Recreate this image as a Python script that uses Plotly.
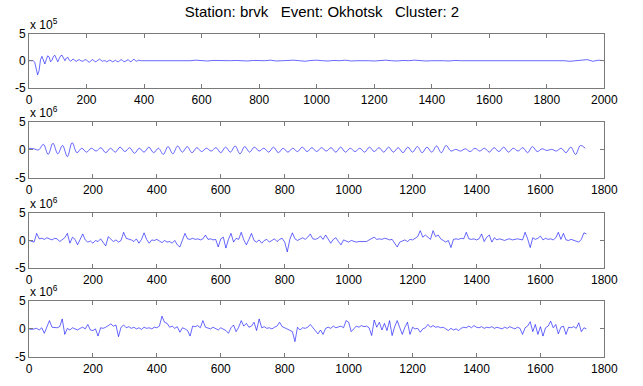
import numpy as np
import plotly.graph_objects as go

# ---------------- data ----------------
TITLE = "Station: brvk\u00a0\u00a0\u00a0Event: Okhotsk\u00a0\u00a0\u00a0Cluster: 2"

# Panel 1 (units of 1e5), samples 0..400 every 5, then 420..2000 every 20
P1_EARLY_STEP = 5
P1_EARLY = [0.0, 0.0, 0.0, 0.0, -0.3, -1.8, -2.6, -1.8, 0.2, 0.8,
            0.1, -0.6, 0.2, 0.9, 0.7, -0.2, 0.1, 0.8, 1.0, 0.3,
            -0.2, 0.4, 0.9, 1.0, 0.4, 0.0, 0.5, 0.6, 0.1, -0.1,
            0.2, 0.3, 0.0, -0.1, 0.1, 0.2, 0.0, -0.1, 0.0, 0.2,
            0.1, -0.1, -0.3, 0.0, 0.2, 0.1, -0.2, -0.1, 0.1, 0.3,
            0.1, -0.1, 0.0, 0.0, -0.2, -0.1, 0.1, 0.0, -0.2, -0.1,
            0.1, -0.1, -0.2, 0.0, 0.2, 0.1, -0.2, -0.1, 0.1, 0.2,
            -0.1, -0.2, 0.1, 0.3, 0.0, -0.1, 0.1, 0.0, 0.0, 0.0,
            0.0]
P1_LATE_START = 420
P1_LATE_STEP = 20
P1_LATE = [0.0, 0.05, -0.05, 0.0, 0.05, 0.0, -0.05, 0.0, 0.1, 0.0,
           -0.05, 0.05, 0.0, -0.05, 0.0, 0.05, 0.0, -0.05, 0.05, 0.0,
           0.0, 0.1, -0.05, 0.0, 0.05, 0.1, 0.0, -0.1, 0.05, 0.1,
           0.0, -0.05, 0.05, 0.0, 0.1, -0.05, 0.0, 0.05, 0.0, -0.05,
           0.0, 0.1, 0.0, -0.05, 0.05, 0.0, 0.1, 0.0, -0.05, 0.0,
           0.05, 0.0, -0.05, 0.05, 0.0, 0.0, -0.05, 0.05, 0.0, 0.05,
           0.0, -0.05, 0.0, 0.05, 0.0, -0.05, 0.0, 0.05, 0.0, 0.0,
           -0.05, 0.05, 0.0, -0.1, 0.0, 0.1, 0.2, -0.1, 0.1, 0.0]

# Panel 2 (units of 1e6), oscillation extremes every 15 samples
P2_STEP = 15
P2 = [0.3, 0.2, 0.0, 1.0, -0.8, 1.2, -0.7, 0.8, -1.2, 1.3,
      -0.5, 0.3, -0.4, 0.3, -0.2, 0.4, -0.5, 0.3, -0.4, 0.5,
      -0.3, 0.4, -0.6, 0.3, -0.4, 0.5, -0.5, 0.3, -0.8, 0.6,
      -0.7, 0.7, -0.4, 0.6, -0.5, 0.4, -0.3, 0.3, -0.2, 0.4,
      -0.5, 0.5, -0.4, 0.7, -0.7, 0.6, -0.4, 0.5, -0.2, 0.3,
      -0.4, 0.5, -0.5, 0.3, -0.4, 0.3, -0.3, 0.5, -0.3, 0.4,
      -0.3, 0.4, -0.2, 0.4, -0.4, 0.5, -0.4, 0.3, -0.3, 0.3,
      -0.4, 0.5, -0.3, 0.4, -0.4, 0.5, -0.4, 0.4, -0.5, 0.5,
      -0.4, 0.6, -0.5, 0.5, -0.4, 0.7, -0.5, 0.8, -0.2, 0.1,
      -0.2, 0.2, -0.3, 0.3, -0.2, 0.3, -0.4, 0.4, -0.3, 0.5,
      -0.4, 0.3, -0.2, 0.4, -0.5, 0.6, -0.3, 0.2, -0.1, 0.1,
      -0.2, 0.3, -0.5, 0.5, -0.8, 0.8, 0.3]

# Panel 3 (units of 1e6), every 8 samples
P3_STEP = 8
P3 = [0.0, -0.2, -0.3, 1.3, 0.3, 0.4, 0.2, 0.5, 0.3, 0.1,
      0.4, 0.3, -0.2, 0.2, 0.5, 1.3, -0.5, 0.6, 0.2, -0.8,
      0.3, 1.2, 0.1, -0.3, -0.1, -0.5, 0.0, -0.2, 0.3, -0.4,
      -1.0, 0.7, 0.2, -0.2, 0.1, -0.3, 0.0, 1.5, 0.4, 0.3,
      0.1, -0.2, 0.3, -0.5, 0.2, 1.4, 0.2, -0.5, 0.1, 0.0,
      0.2, -0.1, -0.4, 0.0, -0.3, -0.2, -0.5, 0.0, -0.8, -1.2,
      0.1, 1.3, 0.3, 0.2, 0.4, 0.2, 0.3, 0.1, 0.3, 1.0,
      0.2, 0.3, 0.1, 0.2, -1.2, 0.3, 0.6, -1.4, 0.2, 1.3,
      -0.3, 0.4, 0.2, 1.5, 0.1, -0.8, 0.2, 1.3, 0.0, -0.3,
      0.1, -0.5, 0.0, 0.2, -0.3, 0.0, 0.3, -0.2, 0.2, 0.4,
      -0.3, -2.1, 0.2, 1.4, 0.3, 0.0, 0.3, 0.5, 0.2, 0.6,
      1.2, 0.3, 0.2, 0.4, 0.8, 0.2, 1.0, 0.3, -0.5, 0.2,
      0.5, -0.2, -0.8, 0.1, -0.1, -0.3, 0.0, -0.2, -0.3, -0.2,
      -0.2, -0.1, -0.2, 0.1, 0.4, 0.6, 0.2, 0.3, 0.2, 0.4,
      0.3, 0.1, 0.2, -0.5, -1.2, -0.3, -0.1, 0.1, -0.2, 0.2,
      0.1, 0.4, 0.7, 1.8, 0.6, 1.0, 0.5, 0.2, 1.8, 0.7,
      1.0, 0.3, 0.0, -0.3, 0.0, -1.3, 0.2, 0.3, 0.2, 0.4,
      0.3, 1.5, 0.3, 0.2, 0.3, 0.1, 0.3, 1.2, -0.2, 0.6,
      1.0, -0.3, 0.5, 0.1, 0.3, 0.2, 0.0, 0.2, 0.3, 0.1,
      0.2, 0.3, 0.2, 0.1, 1.5, 0.3, -1.3, 0.5, 0.2, 0.4,
      0.8, 0.1, 0.4, 0.2, 0.3, 0.1, 0.5, 1.5, 0.2, 1.3,
      0.1, 0.0, 0.2, 0.0, -0.1, -0.3, 0.2, 1.4, 1.2]

# Panel 4 (units of 1e6), every 8 samples
P4_STEP = 8
P4 = [0.0, -0.1, 0.0, 0.1, -0.2, 0.2, -0.8, 0.4, 1.5, 0.3,
      0.3, 0.2, 0.4, 1.8, -1.0, 0.1, -0.2, 0.2, 0.0, -0.2,
      0.1, 0.3, 0.0, 0.8, -0.2, -0.3, 0.0, -1.3, 0.2, 0.1,
      0.3, 0.6, 0.9, 0.5, 0.7, -1.4, 0.3, 0.7, 0.2, 0.4,
      0.1, 0.3, 0.0, 0.2, -0.1, 0.3, 0.1, 0.2, 0.0, 0.3,
      0.2, 0.5, 2.3, 1.2, 1.0, 0.3, 0.5, 0.1, 0.4, -0.6,
      0.2, 0.0, -0.3, -1.3, 0.5, 0.4, 0.6, 0.2, 1.5, 0.3,
      0.2, 0.0, 0.3, 0.1, -0.2, 0.2, 0.0, -0.3, -0.8, 0.2,
      0.7, -0.5, 0.3, 1.5, 0.5, 1.0, 0.3, 0.5, 1.2, -0.3,
      1.8, 0.2, 0.4, 0.1, 0.2, 0.0, 0.3, 0.5, 1.2, 0.4,
      0.2, 0.0, -0.3, -0.5, -2.3, 0.3, -0.2, 0.2, 0.1, 0.3,
      0.8, 0.2, -0.3, -0.9, -0.2, -1.0, 0.1, 0.3, 0.1, 0.5,
      0.2, 0.4, 0.5, 0.2, 1.5, 1.2, -0.5, 0.0, 0.5, 0.3,
      0.6, 0.4, 0.5, 0.2, -1.2, 1.6, 0.3, 1.2, -0.2, 1.0,
      -0.3, 1.5, -1.2, 0.4, 1.5, 0.2, -1.0, 0.3, 1.2, -1.0,
      0.3, 0.0, 0.1, -0.6, 0.0, 0.2, 0.8, 0.3, 0.6, 0.3,
      0.4, 0.2, 0.3, 0.0, -0.3, 0.1, -0.2, 0.0, -0.3, 0.1,
      0.3, 0.2, 0.5, 0.2, 0.6, 0.3, 0.2, 0.4, 0.1, 0.3,
      0.2, 0.4, 0.1, 0.3, 0.2, 0.0, 0.3, 0.1, 0.4, 0.2,
      0.0, 0.3, 0.1, -1.0, 0.2, 0.5, 1.3, -0.5, 0.8, -1.0,
      0.4, -1.3, 0.2, 0.5, 1.4, 0.2, 0.8, -0.9, 0.3, 0.5,
      -1.0, 0.3, 0.2, 0.4, 0.1, 1.1, -0.5, 0.2, 0.0]

EXPONENTS = [5, 6, 6, 6]
X_MAX = [2000, 1800, 1800, 1800]
Y_TICKS = [-5, 0, 5]

# ---------------- build series ----------------
x1 = np.concatenate([np.arange(len(P1_EARLY)) * P1_EARLY_STEP,
                     P1_LATE_START + np.arange(len(P1_LATE)) * P1_LATE_STEP])
y1 = np.array(P1_EARLY + P1_LATE) * 10 ** EXPONENTS[0]
x2 = np.arange(len(P2)) * P2_STEP
y2 = np.array(P2) * 10 ** EXPONENTS[1]
x3 = np.arange(len(P3)) * P3_STEP
y3 = np.array(P3) * 10 ** EXPONENTS[2]
x4 = np.arange(len(P4)) * P4_STEP
y4 = np.array(P4) * 10 ** EXPONENTS[3]
series = [(x1, y1, "linear"), (x2, y2, "spline"), (x3, y3, "linear"), (x4, y4, "linear")]

W, H = 643, 386
LEFT, RIGHT = 26.7, 617.7
PANELS_PX = [(27.5, 84), (119.3, 177.3), (214, 270.5), (305.3, 362.7)]  # top, bottom in px

FONT = "Liberation Sans, Arial, Helvetica, sans-serif"
FRAME = "#7a7a7a"

fig = go.Figure()
layout = dict(
    width=W, height=H,
    margin=dict(l=0, r=0, t=0, b=0),
    paper_bgcolor="white", plot_bgcolor="white",
    showlegend=False,
    font=dict(family=FONT, size=12, color="black"),
    title=dict(text=TITLE, x=322 / W, xanchor="center", y=1 - 12 / H, yanchor="middle",
               font=dict(family=FONT, size=15, color="black")),
)
annotations = []
for i, ((xs, ys, shape), (top, bot)) in enumerate(zip(series, PANELS_PX)):
    n = "" if i == 0 else str(i + 1)
    fig.add_trace(go.Scatter(x=xs, y=ys, mode="lines", xaxis="x" + n, yaxis="y" + n,
                             line=dict(color="#0000ff", width=0.6, shape=shape),
                             hoverinfo="skip"))
    e = EXPONENTS[i]
    layout["xaxis" + n] = dict(
        domain=[LEFT / W, RIGHT / W], anchor="y" + n, range=[0, X_MAX[i]],
        tickmode="linear", tick0=0, dtick=200, ticks="inside", ticklen=4,
        tickcolor=FRAME, showline=True, linecolor=FRAME, linewidth=1, mirror="allticks",
        showgrid=False, zeroline=False, tickfont=dict(size=12, color="black"),
        ticklabelstandoff=1,
    )
    layout["yaxis" + n] = dict(
        domain=[1 - bot / H, 1 - top / H], anchor="x" + n, range=[-5 * 10 ** e, 5 * 10 ** e],
        tickvals=[v * 10 ** e for v in Y_TICKS], ticktext=[str(v) for v in Y_TICKS],
        ticks="inside", ticklen=4, tickcolor=FRAME, showline=True, linecolor=FRAME,
        linewidth=1, mirror="allticks", showgrid=False, zeroline=False,
        tickfont=dict(size=12, color="black"), ticklabelstandoff=0,
    )
    annotations.append(dict(
        text="x 10<sup>%d</sup>" % e, xref="paper", yref="paper",
        x=LEFT / W, y=1 - top / H, xanchor="left", yanchor="bottom",
        showarrow=False, font=dict(family=FONT, size=12, color="black"),
        borderpad=0, yshift=1,
    ))
layout["annotations"] = annotations
fig.update_layout(**layout)
fig.write_html("out.html")
